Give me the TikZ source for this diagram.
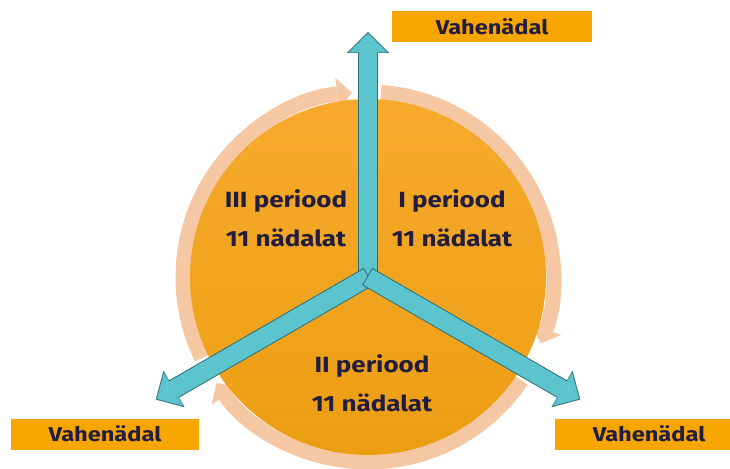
\documentclass[tikz,border=0pt]{standalone}
\usepackage{fontspec}
\setmainfont{Fira Sans}[BoldFeatures={FakeStretch=1.18}]
\usetikzlibrary{arrows.meta}
\definecolor{discorange}{HTML}{F6AA2C}
\definecolor{discdark}{HTML}{EC9E12}
\definecolor{ringpeach}{HTML}{F5C7A3}
\definecolor{boxorange}{HTML}{F7A600}
\definecolor{textnavy}{HTML}{221D3E}
\definecolor{arrowfill}{HTML}{5CC4CD}
\definecolor{arrowline}{HTML}{2F6F7A}
\tikzset{
  week/.style={fill=boxorange, text=textnavy, font=\fontsize{20}{20}\selectfont\bfseries,
    minimum width=188pt, minimum height=31pt, inner sep=0pt},
  period/.style={text=textnavy, font=\fontsize{22}{39}\selectfont\bfseries, align=center},
  ring/.style={draw=ringpeach, line width=15pt,
    -{Triangle[width=32pt,length=15pt,line width=0.1pt]}},
}
\begin{document}
\begin{tikzpicture}[x=1pt,y=1pt]
\useasboundingbox (-368,-191) rectangle (362,277);
\coordinate (O) at (0,0);
\foreach \s/\e in {86/-21, 326/215, 206/95}
  \draw[ring] (\s:185) arc[start angle=\s, end angle=\e, radius=185];
\shade[top color=discorange, bottom color=discdark] (O) circle (178);
\foreach \a/\n in {90/N,210/SW,330/SE} {
  \coordinate (\n) at (\a:245);
  \draw[arrowline, line width=20pt, shorten <=-1pt,
    -{Triangle[width=42pt,length=21pt,line width=0.1pt]}] (O) -- (\n);
  \draw[arrowfill, line width=18pt, shorten >=1.4pt,
    -{Triangle[width=38pt,length=19pt,line width=0.1pt]}] (O) -- (\n);
}
\node[period] (P1) at (84,59) {I periood\\11 nädalat};
\node[period] (P2) at (4,-106) {II periood\\11 nädalat};
\node[period] (P3) at (-82,59) {III periood\\11 nädalat};
\node[week, minimum width=200pt] (V1) at (124,250) {Vahenädal};
\node[week] (V2) at (-263,-157) {Vahenädal};
\node[week] (V3) at (281,-157) {Vahenädal};
\end{tikzpicture}
\end{document}
